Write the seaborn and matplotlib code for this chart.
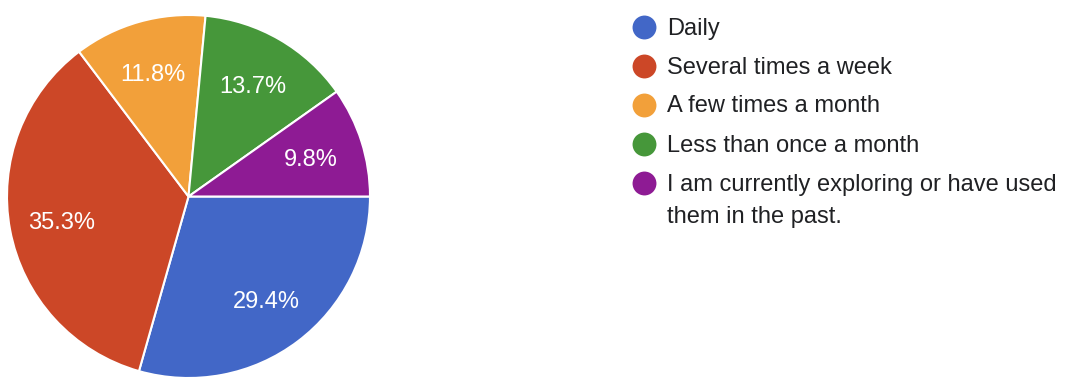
import matplotlib
matplotlib.use("Agg")
import matplotlib.pyplot as plt
import seaborn as sns

categories = ["Daily", "Several times a week", "A few times a month",
              "Less than once a month",
              "I am currently exploring or have used\nthem in the past."]
percentages = [29.4, 35.3, 11.8, 13.7, 9.8]
colors = ["#4267C7", "#CC4727", "#F2A03A", "#46973A", "#8E1B94"]

sns.set_theme(style="white")
plt.rcParams["font.family"] = ["Liberation Sans", "DejaVu Sans"]

W, H = 1067, 378
fig = plt.figure(figsize=(W / 100, H / 100), dpi=100)
fig.patch.set_facecolor("white")

# pie axes: circle centred at (188, 197) px, radius ~182 px
cx, cy, r = 188.5, 196.5, 181.5
ax = fig.add_axes([(cx - r) / W, (H - cy - r) / H, 2 * r / W, 2 * r / H])
palette = sns.color_palette(colors)
wedges, texts, autotexts = ax.pie(
    percentages, colors=palette, startangle=0, counterclock=False,
    autopct="%.1f%%", pctdistance=0.71, radius=1.0,
    wedgeprops=dict(edgecolor="white", linewidth=1.5),
    textprops=dict(color="white", fontsize=17))
for t in autotexts:
    t.set_va("center_baseline")
ax.set_xlim(-1, 1)
ax.set_ylim(-1, 1)
ax.set_aspect("equal")
ax.axis("off")

# legend drawn in pixel coordinates
lax = fig.add_axes([0, 0, 1, 1])
lax.set_xlim(0, W)
lax.set_ylim(H, 0)
lax.axis("off")
base0, step, line_gap = 34.5, 39.0, 32.0
for i, (lab, col) in enumerate(zip(categories, palette)):
    b = base0 + step * i
    lax.plot([644], [b - 8.0], marker="o", markersize=17.2, color=col,
             markeredgewidth=0, linestyle="none")
    for j, line in enumerate(lab.split("\n")):
        lax.text(667, b + j * line_gap, line, fontsize=17, color="#202124",
                 ha="left", va="baseline")

fig.savefig("out.png", dpi=100, facecolor="white")
